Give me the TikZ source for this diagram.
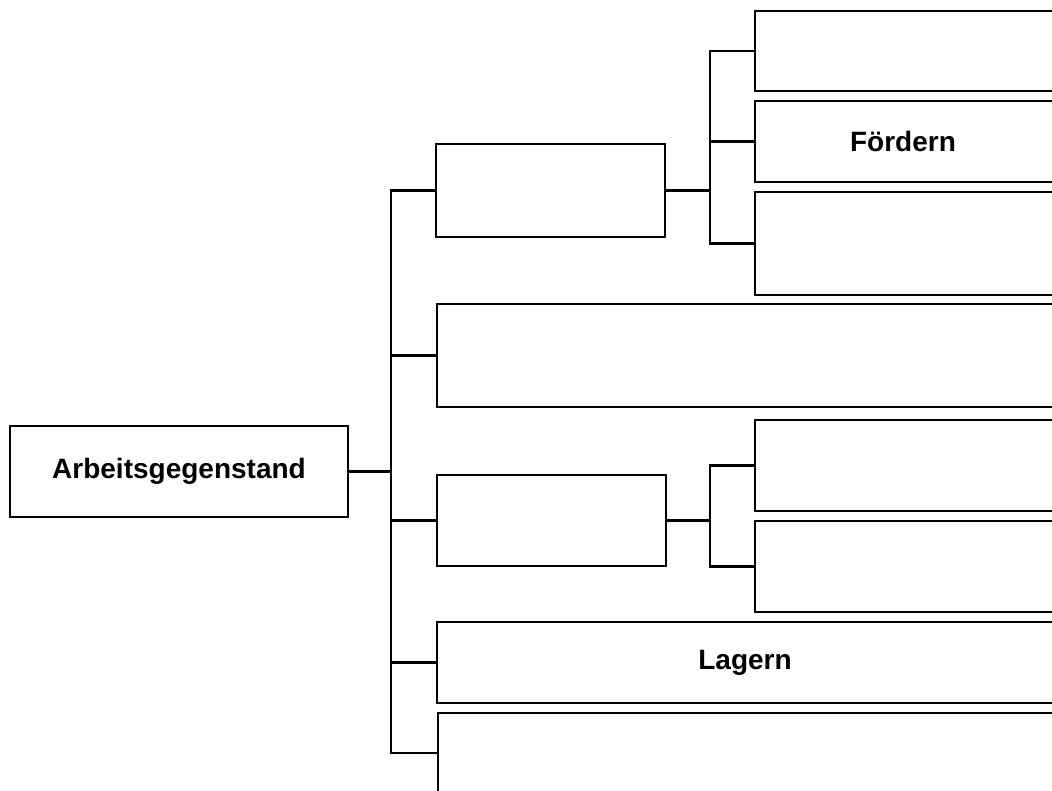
\documentclass[tikz,border=0pt]{standalone}
\usepackage{fontspec}
\setmainfont{Liberation Sans}
\begin{document}
\begin{tikzpicture}[x=1pt,y=-1pt,
  box/.style={draw=black, line width=2.6pt, rectangle, anchor=north west, inner sep=0pt, outer sep=0pt,
    font=\fontsize{28}{32}\selectfont\bfseries},
  conn/.style={draw=black, line width=2.2pt}]
\useasboundingbox (0,0) rectangle (1052,791);
\clip (0,0) rectangle (1052,791);
\fill[white] (0,0) rectangle (1052,791);
% root
\node[box, minimum width=338pt, minimum height=91pt] (arb) at (10,426) {Arbeitsgegenstand};
% level 1
\node[box, minimum width=229pt, minimum height=93pt] (b1) at (436,144) {};
\node[box, minimum width=630pt, minimum height=103pt] (b2) at (437,304) {};
\node[box, minimum width=229pt, minimum height=91pt] (b3) at (437,475) {};
\node[box, minimum width=630pt, minimum height=81pt] (b4) at (437,622) {\hspace*{-14pt}Lagern};
\node[box, minimum width=630pt, minimum height=80pt] (b5) at (438,713) {};
% level 2 upper
\node[box, minimum width=310pt, minimum height=80pt] (c1) at (755,11) {};
\node[box, minimum width=310pt, minimum height=81pt] (c2) at (755,101) {\hspace*{-14pt}Fördern};
\node[box, minimum width=310pt, minimum height=103pt] (c3) at (755,192) {};
% level 2 lower
\node[box, minimum width=310pt, minimum height=91pt] (d1) at (755,420) {};
\node[box, minimum width=310pt, minimum height=91pt] (d2) at (755,521) {};
% trunk coordinates
\coordinate (t0) at (391,471.5);
\coordinate (t1) at (710,190.5);
\coordinate (t2) at (710,520.5);
\draw[conn] (arb.east) -- (arb.east -| t0);
\foreach \n in {b1,b2,b3,b4,b5} \draw[conn] (t0) |- (\n.west);
\draw[conn] (b1.east) -- (b1.east -| t1);
\foreach \n in {c1,c2,c3} \draw[conn] (t1) |- (\n.west);
\draw[conn] (b3.east) -- (b3.east -| t2);
\foreach \n in {d1,d2} \draw[conn] (t2) |- (\n.west);
\end{tikzpicture}
\end{document}
